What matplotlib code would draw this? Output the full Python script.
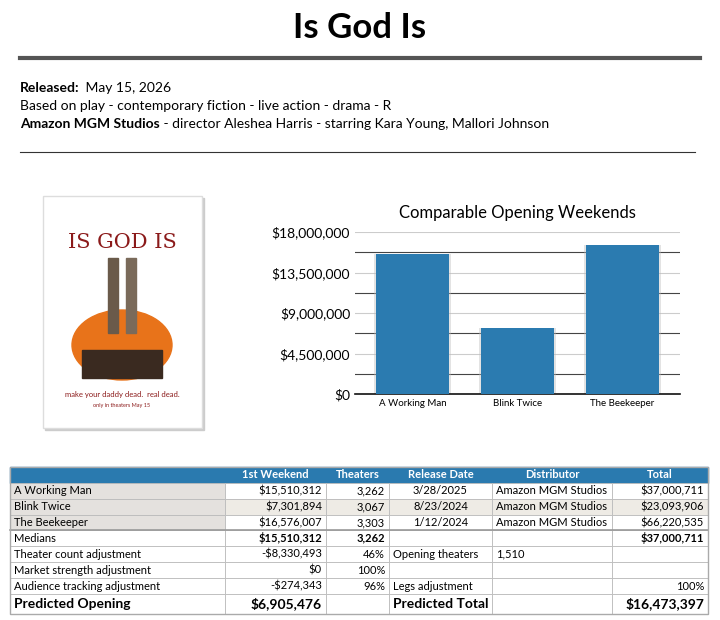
import matplotlib
matplotlib.use("Agg")
import matplotlib.pyplot as plt
from matplotlib.patches import Rectangle, Ellipse
from matplotlib.ticker import FuncFormatter, MultipleLocator

plt.rcParams['font.family'] = ['Lato', 'DejaVu Sans']

films = ["A Working Man", "Blink Twice", "The Beekeeper"]
opening = [15510312, 7301894, 16576007]
theaters = [3262, 3067, 3303]
release = ["3/28/2025", "8/23/2024", "1/12/2024"]
distributor = ["Amazon MGM Studios"] * 3
totals = [37000711, 23093906, 66220535]
yticks = [0, 4500000, 9000000, 13500000, 18000000]
headers = ["", "1st Weekend", "Theaters", "Release Date", "Distributor", "Total"]
extra_rows = [
    ["Medians", "$15,510,312", "3,262", "", "", "$37,000,711"],
    ["Theater count adjustment", "-$8,330,493", "46%", "Opening theaters", "1,510", ""],
    ["Market strength adjustment", "$0", "100%", "", "", ""],
    ["Audience tracking adjustment", "-$274,343", "96%", "Legs adjustment", "", "100%"],
]
final_row = ["Predicted Opening", "$6,905,476", "", "Predicted Total", "", "$16,473,397"]

BLUE = "#2a7aaf"
fig = plt.figure(figsize=(7.2, 6.2), dpi=100)
bg = fig.add_axes([0, 0, 1, 1])
bg.set_xlim(0, 720); bg.set_ylim(620, 0); bg.axis("off")

bg.text(360, 28, "Is God Is", ha="center", va="center", fontsize=25, fontweight="bold")
bg.plot([20, 700], [58, 58], color="#555555", lw=3)
bg.text(20, 88, "Released:", fontsize=10, va="center", fontweight="bold")
bg.text(82, 88, " May 15, 2026", fontsize=10, va="center")
bg.text(20, 106, "Based on play - contemporary fiction - live action - drama - R", fontsize=10, va="center")
bg.text(20, 124, "Amazon MGM Studios", fontsize=10, va="center", fontweight="bold")
bg.text(160, 124, " - director Aleshea Harris - starring Kara Young, Mallori Johnson", fontsize=10, va="center")
bg.plot([20, 695], [152, 152], color="#333333", lw=0.8)

# poster (decorative)
bg.add_patch(Rectangle((45, 198), 159, 232, color="#cccccc", zorder=1))
bg.add_patch(Rectangle((43, 196), 159, 232, facecolor="white", edgecolor="#dddddd", zorder=2))
bg.text(122, 242, "IS GOD IS", ha="center", va="center", fontsize=15, color="#8b1a1a", zorder=3, family="DejaVu Serif")
bg.add_patch(Ellipse((122, 345), 100, 70, color="#e8731a", zorder=3))
bg.add_patch(Rectangle((82, 350), 80, 28, color="#3a2a20", zorder=4))
bg.add_patch(Rectangle((108, 258), 10, 75, color="#6a5a4a", zorder=4))
bg.add_patch(Rectangle((126, 258), 10, 75, color="#7a6a5a", zorder=4))
bg.text(122, 397, "make your daddy dead.  real dead.", ha="center", fontsize=5.5, color="#8b1a1a", zorder=3)
bg.text(122, 407, "only in theaters May 15", ha="center", fontsize=4, color="#8b1a1a", zorder=3)

# chart
ax = fig.add_axes([355/720, 1-394/620, 325/720, 162/620])
x = range(len(films))
ax.bar(x, opening, width=0.74, color="#bbbbbb", alpha=0.4, zorder=2)
ax.bar(x, opening, width=0.7, color="#2b7bb0", zorder=3)
ax.set_ylim(0, 18000000)
ax.set_xlim(-0.55, 2.55)
ax.set_yticks(yticks)
ax.yaxis.set_major_formatter(FuncFormatter(lambda v, p: f"${v:,.0f}"))
ax.yaxis.set_minor_locator(MultipleLocator(2250000))
ax.grid(axis="y", which="major", color="#cccccc", lw=0.8, zorder=0)
ax.grid(axis="y", which="minor", color="#444444", lw=0.8, zorder=0)
ax.set_xticks(list(x)); ax.set_xticklabels(films, fontsize=7)
ax.tick_params(axis="y", labelsize=10, length=0, which="both")
ax.tick_params(axis="x", length=0)
for s in ["top", "right", "left"]:
    ax.spines[s].set_visible(False)
ax.spines["bottom"].set_color("#111111"); ax.spines["bottom"].set_linewidth(1.2)
ax.set_title("Comparable Opening Weekends", fontsize=12, pad=10)

# table
cols = [10, 225, 326, 389, 492, 612, 708]
rows_y = [467, 483, 499, 515, 530, 546, 562, 578, 594, 614]
ha_list = ["left", "right", "right", "center", "left", "right"]
bg.add_patch(Rectangle((cols[0], rows_y[0]), cols[-1]-cols[0], rows_y[1]-rows_y[0], color=BLUE, zorder=2))
for j, h in enumerate(headers):
    bg.text((cols[j]+cols[j+1])/2, (rows_y[0]+rows_y[1])/2, h, ha="center", va="center",
            color="white", fontsize=8, fontweight="bold", zorder=5)

body = []
for i in range(3):
    body.append([films[i], f"${opening[i]:,}", f"{theaters[i]:,}", release[i], distributor[i], f"${totals[i]:,}"])
body += extra_rows + [final_row]

def cx(j, ha):
    if ha == "left": return cols[j] + 4
    if ha == "right": return cols[j+1] - 4
    return (cols[j]+cols[j+1])/2

for i, r in enumerate(body):
    y0, y1 = rows_y[i+1], rows_y[i+2]
    for j in range(6):
        fc = "white"
        if i < 3 and j == 0: fc = "#e4e1de"
        elif i == 1: fc = "#eeebe5"
        bg.add_patch(Rectangle((cols[j], y0), cols[j+1]-cols[j], y1-y0, facecolor=fc,
                               edgecolor="#bbbbbb", lw=0.6, zorder=2))
    for j, v in enumerate(r):
        ha = ha_list[j]
        if i in (4, 6) and j in (3, 4): ha = "left"
        bold = (i == 3 and j in (1, 2, 5)) or i == 7
        fs = 10 if i == 7 else 8
        bg.text(cx(j, ha), (y0+y1)/2, v, ha=ha, va="center", fontsize=fs,
                fontweight="bold" if bold else "normal", zorder=5)
bg.plot([cols[0], cols[-1]], [rows_y[4], rows_y[4]], color="#999999", lw=1.2, zorder=4)
bg.add_patch(Rectangle((cols[0], rows_y[0]), cols[-1]-cols[0], rows_y[-1]-rows_y[0],
                       fill=False, edgecolor="#aaaaaa", lw=1, zorder=4))

fig.savefig("out.png", dpi=100)
